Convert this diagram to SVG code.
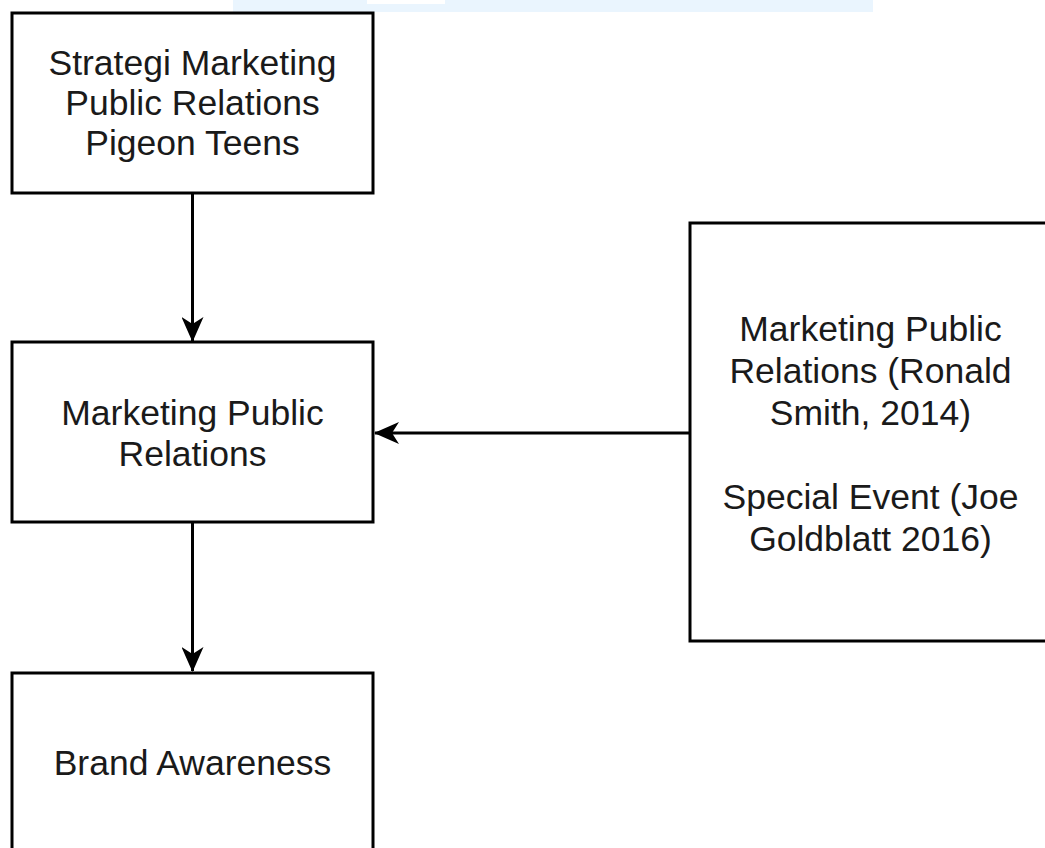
<svg xmlns="http://www.w3.org/2000/svg" width="1045" height="848" viewBox="0 0 1045 848">
  <style>
    .box { fill: #ffffff; stroke: #000000; stroke-width: 3; }
    .lbl { font-family: "Liberation Sans", Arial, Helvetica, sans-serif; font-size: 35.5px; fill: #1a1a1a; text-anchor: middle; }
    .edge { fill: none; stroke: #000000; stroke-width: 3; marker-end: url(#arrow); }
  </style>
  <defs>
    <marker id="arrow" markerUnits="userSpaceOnUse" viewBox="0 0 25 22" refX="24" refY="11" markerWidth="25" markerHeight="22" orient="auto">
      <path d="M0,0 L25,11 L0,22 L7,11 Z" fill="#000000"/>
    </marker>
  </defs>

  <rect width="1045" height="848" fill="#ffffff"/>

  <!-- top strip -->
  <rect x="233" y="0" width="640" height="12" fill="#eaf5fe"/>
  <rect x="367" y="0" width="78" height="4" fill="#ffffff"/>

  <g id="connectors">
    <path class="edge" d="M192.5,193 L192.5,341"/>
    <path class="edge" d="M192.5,522 L192.5,671"/>
    <path class="edge" d="M690,433 L375,433"/>
  </g>

  <g id="node-strategi">
    <rect class="box" x="12" y="13" width="361" height="180"/>
    <text class="lbl" x="192.5" y="75">Strategi Marketing</text>
    <text class="lbl" x="192.5" y="115">Public Relations</text>
    <text class="lbl" x="192.5" y="155">Pigeon Teens</text>
  </g>

  <g id="node-mpr">
    <rect class="box" x="12" y="342" width="361" height="180"/>
    <text class="lbl" x="192.5" y="425">Marketing Public</text>
    <text class="lbl" x="192.5" y="466">Relations</text>
  </g>

  <g id="node-brand">
    <rect class="box" x="12" y="673" width="361" height="179"/>
    <text class="lbl" x="192.5" y="775">Brand Awareness</text>
  </g>

  <g id="node-theory">
    <rect class="box" x="690" y="223" width="361" height="418"/>
    <text class="lbl" x="870.5" y="341">Marketing Public</text>
    <text class="lbl" x="870.5" y="383">Relations (Ronald</text>
    <text class="lbl" x="870.5" y="425">Smith, 2014)</text>
    <text class="lbl" x="870.5" y="509">Special Event (Joe</text>
    <text class="lbl" x="870.5" y="551">Goldblatt 2016)</text>
  </g>
</svg>
